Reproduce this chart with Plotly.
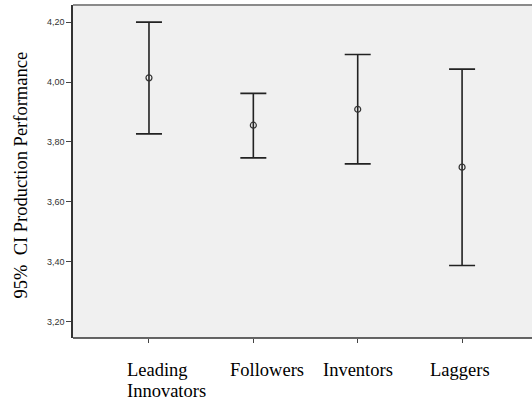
import plotly.graph_objects as go

# Group means and 95% confidence limits for production performance
categories = ["Leading Innovators", "Followers", "Inventors", "Laggers"]
label_lines = [["Leading", "Innovators"], ["Followers"], ["Inventors"], ["Laggers"]]
means = [4.014, 3.856, 3.909, 3.716]
ci_lower = [3.827, 3.747, 3.727, 3.388]
ci_upper = [4.200, 3.962, 4.092, 4.043]
y_ticks = [3.20, 3.40, 3.60, 3.80, 4.00, 4.20]

x_pos = list(range(len(categories)))
err_plus = [u - m for u, m in zip(ci_upper, means)]
err_minus = [m - l for m, l in zip(means, ci_lower)]

fig = go.Figure()
fig.add_trace(go.Scatter(
    x=x_pos,
    y=means,
    mode="markers",
    marker=dict(symbol="circle-open", size=6, color="#333333", line=dict(width=1.2)),
    error_y=dict(
        type="data",
        symmetric=False,
        array=err_plus,
        arrayminus=err_minus,
        color="#222222",
        thickness=1.6,
        width=13,
    ),
    showlegend=False,
    hoverinfo="skip",
))

# Category labels, left-aligned below each tick
label_shift = [-24, -25, -37, -34]
annotations = []
for xi, lines, dx in zip(x_pos, label_lines, label_shift):
    for li, line in enumerate(lines):
        annotations.append(dict(
            x=xi, y=0, xref="x", yref="paper",
            text=line, showarrow=False,
            xanchor="left", yanchor="top",
            xshift=dx, yshift=-20 - 21 * li,
            font=dict(family="Liberation Serif, Times New Roman, serif", size=18.5, color="#000000"),
        ))

# Rotated axis title
annotations.append(dict(
    x=0, y=0.5, xref="paper", yref="paper",
    text="95%  CI Production Performance",
    showarrow=False, textangle=-90,
    xanchor="center", yanchor="middle",
    xshift=-53, yshift=-4,
    font=dict(family="Liberation Serif, Times New Roman, serif", size=18.5, color="#000000"),
))

# Frame: grey top edge, dark bottom and left edges
frame = [
    dict(type="line", xref="paper", yref="paper", x0=0, x1=1, y0=1, y1=1,
         line=dict(color="#8a8a8a", width=2)),
    dict(type="line", xref="paper", yref="paper", x0=0, x1=1, y0=0, y1=0,
         line=dict(color="#333333", width=1.5)),
]

fig.update_layout(
    width=532,
    height=407,
    margin=dict(l=73, r=0, t=5, b=69),
    paper_bgcolor="#ffffff",
    plot_bgcolor="#f0f0f0",
    separators=",.",
    annotations=annotations,
    shapes=frame,
    xaxis=dict(
        range=[-0.728, 3.670],
        tickvals=x_pos,
        ticktext=["" for _ in categories],
        ticks="outside",
        ticklen=4,
        tickcolor="#444444",
        showgrid=False,
        zeroline=False,
        showline=False,
        fixedrange=True,
    ),
    yaxis=dict(
        range=[3.146, 4.257],
        tickvals=y_ticks,
        tickformat=".2f",
        ticks="outside",
        ticklen=5,
        tickcolor="#444444",
        tickfont=dict(family="Liberation Sans, Arial, sans-serif", size=9, color="#333333"),
        showgrid=False,
        zeroline=False,
        showline=True,
        linecolor="#333333",
        linewidth=1.5,
        fixedrange=True,
    ),
)

fig.write_html("out.html", config={"displayModeBar": False})
